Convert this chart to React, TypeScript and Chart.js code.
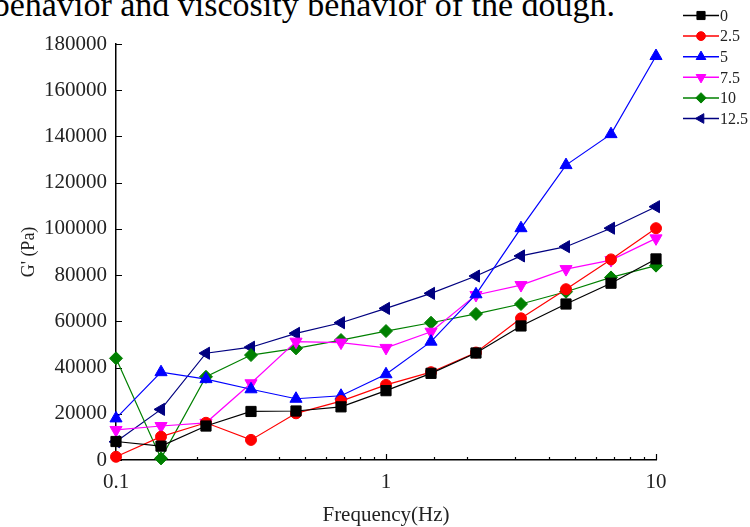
import React, { useEffect, useRef } from 'react';
import { Chart, registerables } from 'chart.js';
import { drawPoint } from 'chart.js/helpers';

Chart.register(...registerables);

// ---- data ----
const frequencies = [0.1, 0.1468, 0.2154, 0.3162, 0.4642, 0.6813, 1, 1.468, 2.154, 3.162, 4.642, 6.813, 10];
const seriesNames = ['0', '2.5', '5', '7.5', '10', '12.5'];
const g0 = [8000, 6000, 14700, 21000, 21200, 23000, 30000, 37500, 46300, 58000, 67500, 76500, 87000];
const g25 = [1400, 10100, 16100, 8700, 20200, 25500, 32500, 38000, 46500, 61300, 73900, 86800, 100300];
const g5 = [18000, 38000, 35000, 30600, 26500, 27800, 37100, 51200, 71700, 100300, 127600, 141000, 174800];
const g75 = [13000, 14700, 16100, 33200, 51200, 50800, 48500, 55500, 71400, 75700, 82600, 86500, 95900];
const g10 = [44000, 700, 36000, 45400, 48300, 51900, 55800, 59400, 63200, 67500, 72800, 79000, 84100];
const g125 = [7900, 21900, 46200, 48800, 54800, 59400, 65600, 72100, 79600, 88300, 92300, 100300, 109600];
const seriesValues = [g0, g25, g5, g75, g10, g125];

const yTicks = [0, 20000, 40000, 60000, 80000, 100000, 120000, 140000, 160000, 180000];
const xTickValues = [0.1, 1, 10];
const xTickLabels = ['0.1', '1', '10'];

const headingText = 'behavior and viscosity behavior of the dough.';
const xTitle = 'Frequency(Hz)';
const yTitle = "G' (Pa)";

// ---- styles ----
const colors = ['#000000', '#ff0000', '#0000ff', '#ff00ff', '#008000', '#000080'];
const pointStyles = ['rect', 'circle', 'triangle', 'triangle', 'rectRot', 'triangle'];
const pointRotations = [0, 0, 0, 180, 0, -90];
const pointRadii = [7.2, 5.5, 7, 7, 6.5, 7];
const FONT = "'Liberation Serif', 'Times New Roman', serif";

const decorPlugin = {
  id: 'decor',
  beforeDatasetsDraw(chart: any) {
    const { ctx, chartArea, scales } = chart;
    const xs = scales.x;
    const ys = scales.y;
    ctx.save();
    ctx.strokeStyle = '#000';
    ctx.lineWidth = 1.2;
    ctx.beginPath();
    ys.ticks.forEach((t: any) => {
      const py = Math.round(ys.getPixelForValue(t.value)) + 0.5;
      ctx.moveTo(chartArea.left, py);
      ctx.lineTo(chartArea.left + 6, py);
    });
    xs.ticks.forEach((t: any) => {
      const px = Math.round(xs.getPixelForValue(t.value)) + 0.5;
      const isMajor = xTickValues.some((v) => Math.abs(v - t.value) < 1e-9);
      ctx.moveTo(px, chartArea.bottom);
      ctx.lineTo(px, chartArea.bottom - (isMajor ? 6 : 3));
    });
    ctx.stroke();
    ctx.restore();
  },
  afterDraw(chart: any) {
    const { ctx } = chart;
    ctx.save();
    chart.data.datasets.forEach((ds: any, i: number) => {
      const y = 15.5 + i * 20.6;
      ctx.strokeStyle = ds.borderColor;
      ctx.lineWidth = 1.5;
      ctx.beginPath();
      ctx.moveTo(683, y);
      ctx.lineTo(719, y);
      ctx.stroke();
      ctx.fillStyle = ds.pointBackgroundColor;
      ctx.strokeStyle = ds.pointBorderColor;
      ctx.lineWidth = 1;
      drawPoint(ctx, { pointStyle: ds.pointStyle, rotation: ds.pointRotation, radius: ds.pointRadius * 0.8, borderWidth: 1 }, 701, y);
      ctx.fillStyle = '#222';
      ctx.font = `16px ${FONT}`;
      ctx.textAlign = 'left';
      ctx.textBaseline = 'middle';
      ctx.fillText(ds.label, 720, y + 1);
    });
    ctx.restore();
  },
};

export default function App() {
  const canvasRef = useRef<HTMLCanvasElement | null>(null);

  useEffect(() => {
    const canvas = canvasRef.current;
    if (!canvas) return;
    const datasets = seriesNames.map((name, i) => ({
      label: name,
      data: frequencies.map((f, j) => ({ x: f, y: seriesValues[i][j] })),
      borderColor: colors[i],
      backgroundColor: colors[i],
      pointBackgroundColor: colors[i],
      pointBorderColor: colors[i],
      pointStyle: pointStyles[i],
      pointRotation: pointRotations[i],
      pointRadius: pointRadii[i],
      pointBorderWidth: 1,
      borderWidth: 1.2,
      tension: 0,
      clip: false as any,
    }));
    const chart = new Chart(canvas, {
      type: 'line',
      data: { datasets },
      plugins: [decorPlugin],
      options: {
        responsive: false,
        animation: false,
        devicePixelRatio: 1,
        layout: { padding: { top: 44, right: 94, left: 0, bottom: 0 } },
        plugins: { legend: { display: false }, tooltip: { enabled: false } },
        scales: {
          x: {
            type: 'logarithmic',
            min: 0.1,
            max: 10,
            grid: { display: false, drawTicks: false },
            border: { display: true, color: '#000', width: 1.5 },
            ticks: {
              autoSkip: false,
              maxRotation: 0,
              padding: 10,
              color: '#222',
              font: { family: FONT, size: 21 },
              callback: (v: any) => {
                const k = xTickValues.findIndex((t) => Math.abs(t - Number(v)) < 1e-9);
                return k >= 0 ? xTickLabels[k] : '';
              },
            },
            title: { display: true, text: xTitle, color: '#222', font: { family: FONT, size: 21 }, padding: { top: 0, bottom: -1 } },
            afterFit: (s: any) => {
              s.height = 67;
              s.paddingLeft = 0;
              s.paddingRight = 0;
            },
          },
          y: {
            type: 'linear',
            min: 0,
            max: 180000,
            grid: { display: false, drawTicks: false },
            border: { display: true, color: '#000', width: 1.5 },
            afterBuildTicks: (s: any) => {
              s.ticks = yTicks.map((v) => ({ value: v }));
            },
            ticks: {
              padding: 9,
              color: '#222',
              font: { family: FONT, size: 21 },
              callback: (v: any) => String(v),
            },
            title: { display: true, text: yTitle, color: '#222', font: { family: FONT, size: 18 }, padding: { top: 18, bottom: 0 } },
            afterFit: (s: any) => {
              s.width = 116;
              s.paddingTop = 0;
              s.paddingBottom = 0;
            },
          },
        },
      } as any,
    });
    return () => chart.destroy();
  }, []);

  return (
    <div style={{ position: 'absolute', left: 0, top: 0, width: 750, height: 527, overflow: 'hidden', background: '#fff' }}>
      <div
        style={{
          position: 'absolute',
          right: 135,
          top: -12,
          whiteSpace: 'nowrap',
          fontFamily: FONT,
          fontSize: 34,
          lineHeight: '34px',
          color: '#000',
        }}
      >
        {headingText}
      </div>
      <canvas ref={canvasRef} width={750} height={527} style={{ position: 'absolute', left: 0, top: 0 }} />
    </div>
  );
}
